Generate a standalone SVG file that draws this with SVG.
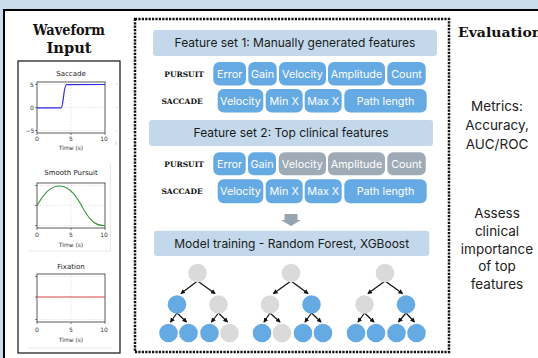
<svg xmlns="http://www.w3.org/2000/svg" width="538" height="358" viewBox="0 0 538 358">
<defs>
<style>
.hdr{fill:#c3d9eb}
.htxt{font-family:Inter,"Liberation Sans",sans-serif;font-size:12px;fill:#1a1a1a;text-anchor:middle}
.pill{fill:#66aae4}
.pgray{fill:#9eaab5}
.ptxt{font-family:Inter,"Liberation Sans",sans-serif;font-size:10.8px;fill:#ffffff;text-anchor:middle}
.lbl{font-family:"DejaVu Serif",serif;font-weight:bold;font-size:7.5px;fill:#111;text-anchor:middle}
.ttl{font-family:"DejaVu Serif",serif;font-weight:bold;fill:#111;text-anchor:middle}
.ttl-start{font-family:"DejaVu Serif",serif;font-weight:bold;fill:#111;text-anchor:start}
.ev{font-family:Inter,"Liberation Sans",sans-serif;font-size:13.5px;fill:#222;text-anchor:middle}
.blue{fill:#66aae4}
.gray{fill:#dadada}
.edge{stroke:#111;stroke-width:1.2;fill:none;marker-end:url(#ah)}
.ax{fill:none;stroke:#333;stroke-width:0.8}
.grid{stroke:#cfcfcf;stroke-width:0.5;stroke-dasharray:1.5 1.5}
.tk{font-family:"DejaVu Sans",sans-serif;font-size:6px;fill:#333;text-anchor:middle}
.pt{font-family:"DejaVu Sans",sans-serif;font-size:7px;fill:#222;text-anchor:middle}
.faint{stroke:#e2e2e2;stroke-width:0.8;fill:none}
</style>
<marker id="ah" viewBox="0 0 6 6" refX="5" refY="3" markerWidth="4" markerHeight="4" orient="auto">
<path d="M0,0 L6,3 L0,6 z" fill="#111"/>
</marker>
</defs>

<!-- background / frame -->
<rect x="0" y="0" width="538" height="358" fill="#c8dcee"/>
<rect x="4" y="10" width="570" height="360" fill="#ffffff" stroke="#000" stroke-width="2"/>

<!-- Waveform input -->
<g id="waveform-title">
<text class="ttl" x="69" y="35" font-size="14.5" textLength="72" lengthAdjust="spacingAndGlyphs">Waveform</text>
<text class="ttl" x="69" y="53" font-size="14.5" textLength="45" lengthAdjust="spacingAndGlyphs">Input</text>
</g>

<g id="waveform-panel">
<rect x="18" y="61" width="102" height="292" fill="#fff" stroke="#222" stroke-width="1.3"/>

<!-- Saccade -->
<text class="pt" x="71" y="76">Saccade</text>
<line class="grid" x1="71" y1="82" x2="71" y2="133"/>
<line class="grid" x1="37" y1="84.5" x2="105" y2="84.5"/>
<line class="grid" x1="37" y1="107.5" x2="105" y2="107.5"/>
<line class="grid" x1="37" y1="130.5" x2="105" y2="130.5"/>
<rect class="ax" x="37" y="82" width="68" height="51"/>
<path d="M35,84.5h2M35,107.5h2M35,130.5h2M37,133v2M71,133v2M105,133v2" stroke="#333" stroke-width="0.6"/>
<text class="tk" x="32" y="86.5">5</text>
<text class="tk" x="32" y="109.5">0</text>
<text class="tk" x="30" y="132.5">−5</text>
<text class="tk" x="37" y="141">0</text>
<text class="tk" x="71" y="141">5</text>
<text class="tk" x="104" y="141">10</text>
<text class="tk" x="71" y="150">Time (s)</text>
<path d="M37,107.8 L61,107.8 C63.5,107.8 63.5,85 66.5,84.7 L105,84.5" fill="none" stroke="#2a2ae0" stroke-width="1.2"/>
<path d="M116,84h1.5M116,107.5h1.5M116,131h1.5M116,141v4" stroke="#bbb" stroke-width="0.6"/>

<!-- Smooth Pursuit -->
<path class="faint" d="M110.5,163 V251 H28"/>
<text class="pt" x="71" y="175">Smooth Pursuit</text>
<line class="grid" x1="71" y1="183" x2="71" y2="228"/>
<line class="grid" x1="37" y1="185.5" x2="105" y2="185.5"/>
<line class="grid" x1="37" y1="205.5" x2="105" y2="205.5"/>
<line class="grid" x1="37" y1="225.5" x2="105" y2="225.5"/>
<rect class="ax" x="37" y="183" width="68" height="45"/>
<path d="M35,185.5h2M35,205.5h2M35,225.5h2M37,228v2M71,228v2M105,228v2" stroke="#333" stroke-width="0.6"/>
<text class="tk" x="37" y="237">0</text>
<text class="tk" x="71" y="237">5</text>
<text class="tk" x="104" y="237">10</text>
<text class="tk" x="71" y="247">Time (s)</text>
<path d="M37,205.5 C44,194 50,186 59.5,186 C70,186 77,197 84,210 C91,222 97,226 105,225.5" fill="none" stroke="#3a963a" stroke-width="1.1"/>

<!-- Fixation -->
<text class="pt" x="71" y="269">Fixation</text>
<line class="grid" x1="71" y1="274" x2="71" y2="322"/>
<line class="grid" x1="37" y1="276.5" x2="105" y2="276.5"/>
<line class="grid" x1="37" y1="297" x2="105" y2="297"/>
<line class="grid" x1="37" y1="319.5" x2="105" y2="319.5"/>
<rect class="ax" x="37" y="274" width="68" height="48"/>
<path d="M35,276.5h2M35,297h2M35,319.5h2M37,322v2M71,322v2M105,322v2" stroke="#333" stroke-width="0.6"/>
<text class="tk" x="37" y="332">0</text>
<text class="tk" x="71" y="332">5</text>
<text class="tk" x="104" y="332">10</text>
<text class="tk" x="71" y="342">Time (s)</text>
<path d="M37,297 L105,297" stroke="#e04848" stroke-width="1.1"/>
<line class="faint" x1="28" y1="348" x2="112" y2="348"/>
</g>

<!-- dotted central box -->
<rect x="135" y="19" width="314" height="333" fill="none" stroke="#111" stroke-width="2.5" stroke-dasharray="2.2 1.2"/>

<g id="featureset1">
<rect class="hdr" x="153" y="30" width="284" height="26" rx="3"/>
<text class="htxt" x="295" y="47">Feature set 1: Manually generated features</text>
</g>
<g id="fs1-pursuit">
<text class="lbl" x="184" y="76.5">PURSUIT</text>
<rect class="pill" x="213.3" y="62" width="32.7" height="23.5" rx="6"/><text class="ptxt" x="229.7" y="77.5">Error</text>
<rect class="pill" x="248.3" y="62" width="28.4" height="23.5" rx="6"/><text class="ptxt" x="262.5" y="77.5">Gain</text>
<rect class="pill" x="279" y="62" width="47" height="23.5" rx="6"/><text class="ptxt" x="302.5" y="77.5">Velocity</text>
<rect class="pill" x="328" y="62" width="57" height="23.5" rx="6"/><text class="ptxt" x="356.5" y="77.5">Amplitude</text>
<rect class="pill" x="387.3" y="62" width="38.4" height="23.5" rx="6"/><text class="ptxt" x="406.5" y="77.5">Count</text>
</g>
<g id="fs1-saccade">
<text class="lbl" x="182" y="103.5">SACCADE</text>
<rect class="pill" x="217.7" y="89" width="45.6" height="23.5" rx="6"/><text class="ptxt" x="240.5" y="104.5">Velocity</text>
<rect class="pill" x="265.7" y="89" width="37" height="23.5" rx="6"/><text class="ptxt" x="284.2" y="104.5">Min X</text>
<rect class="pill" x="304.7" y="89" width="37" height="23.5" rx="6"/><text class="ptxt" x="323.2" y="104.5">Max X</text>
<rect class="pill" x="344.3" y="89" width="82.4" height="23.5" rx="6"/><text class="ptxt" x="385.5" y="104.5">Path length</text>
</g>

<g id="featureset2">
<rect class="hdr" x="149" y="120" width="284" height="26" rx="3"/>
<text class="htxt" x="291" y="137">Feature set 2: Top clinical features</text>
</g>
<g id="fs2-pursuit">
<text class="lbl" x="184" y="166.5">PURSUIT</text>
<rect class="pill" x="213.3" y="152.3" width="32.4" height="23" rx="6"/><text class="ptxt" x="229.5" y="167.5">Error</text>
<rect class="pill" x="248" y="152.3" width="28" height="23" rx="6"/><text class="ptxt" x="262" y="167.5">Gain</text>
<rect class="pgray" x="278.7" y="152.3" width="47.3" height="23" rx="6"/><text class="ptxt" x="302.3" y="167.5">Velocity</text>
<rect class="pgray" x="328" y="152.3" width="57" height="23" rx="6"/><text class="ptxt" x="356.5" y="167.5">Amplitude</text>
<rect class="pgray" x="387.3" y="152.3" width="38.4" height="23" rx="6"/><text class="ptxt" x="406.5" y="167.5">Count</text>
</g>
<g id="fs2-saccade">
<text class="lbl" x="182" y="193.5">SACCADE</text>
<rect class="pill" x="217.7" y="179.3" width="45.6" height="24" rx="6"/><text class="ptxt" x="240.5" y="195">Velocity</text>
<rect class="pill" x="265.7" y="179.3" width="37" height="24" rx="6"/><text class="ptxt" x="284.2" y="195">Min X</text>
<rect class="pill" x="304.7" y="179.3" width="37" height="24" rx="6"/><text class="ptxt" x="323.2" y="195">Max X</text>
<rect class="pill" x="344.3" y="179.3" width="82.4" height="24" rx="6"/><text class="ptxt" x="385.5" y="195">Path length</text>
</g>

<g id="arrow-down">
<path d="M284.5,214 H297.5 V220 H301 L291,226 L281,220 H284.5 Z" fill="#98a4ae"/>
</g>

<g id="model-training">
<rect class="hdr" x="154" y="230.7" width="275.3" height="25.3" rx="3"/>
<text class="htxt" x="291.7" y="248">Model training - Random Forest, XGBoost</text>
</g>

<g id="connectors">
<!-- tree 1 -->
<path class="edge" d="M197.5,281 L181,293.5"/>
<path class="edge" d="M197.5,281 L215,293.5"/>
<path class="edge" d="M177,313 L170.5,322"/>
<path class="edge" d="M177,313 L186.5,322"/>
<path class="edge" d="M218.5,313 L211.5,322"/>
<path class="edge" d="M218.5,313 L227.5,322"/>
<!-- tree 2 -->
<path class="edge" d="M291,281 L273.5,293.5"/>
<path class="edge" d="M291,281 L308,293.5"/>
<path class="edge" d="M270,313 L264,322"/>
<path class="edge" d="M270,313 L280,322"/>
<path class="edge" d="M311.5,313 L305,322"/>
<path class="edge" d="M311.5,313 L321,322"/>
<!-- tree 3 -->
<path class="edge" d="M385,281 L368,293.5"/>
<path class="edge" d="M385,281 L402.5,293.5"/>
<path class="edge" d="M364.5,313 L358,322"/>
<path class="edge" d="M364.5,313 L374,322"/>
<path class="edge" d="M406,313 L398.5,322"/>
<path class="edge" d="M406,313 L414.5,322"/>
</g>

<g id="tree1">
<circle class="gray" cx="197.5" cy="273" r="9.3"/>
<circle class="blue" cx="177" cy="304.5" r="9.3"/>
<circle class="gray" cx="218.5" cy="304.5" r="9.3"/>
<circle class="blue" cx="168.5" cy="333" r="9.3"/>
<circle class="blue" cx="188.5" cy="333" r="9.3"/>
<circle class="blue" cx="209.5" cy="333" r="9.3"/>
<circle class="gray" cx="229.5" cy="333" r="9.3"/>
</g>
<g id="tree2">
<circle class="gray" cx="291" cy="273" r="9.3"/>
<circle class="gray" cx="270" cy="304.5" r="9.3"/>
<circle class="blue" cx="311.5" cy="304.5" r="9.3"/>
<circle class="blue" cx="262" cy="333" r="9.3"/>
<circle class="gray" cx="282" cy="333" r="9.3"/>
<circle class="blue" cx="303" cy="333" r="9.3"/>
<circle class="blue" cx="323" cy="333" r="9.3"/>
</g>
<g id="tree3">
<circle class="gray" cx="385" cy="273" r="9.3"/>
<circle class="gray" cx="364.5" cy="304.5" r="9.3"/>
<circle class="blue" cx="406" cy="304.5" r="9.3"/>
<circle class="blue" cx="356" cy="333" r="9.3"/>
<circle class="blue" cx="376" cy="333" r="9.3"/>
<circle class="blue" cx="396.5" cy="333" r="9.3"/>
<circle class="blue" cx="416.5" cy="333" r="9.3"/>
</g>

<g id="evaluation">
<text class="ttl-start" x="458" y="37" font-size="13.5" textLength="84" lengthAdjust="spacingAndGlyphs">Evaluation</text>
</g>
<g id="metrics">
<text class="ev" x="497" y="111">Metrics:</text>
<text class="ev" x="497" y="130">Accuracy,</text>
<text class="ev" x="497" y="149">AUC/ROC</text>
</g>
<g id="assess">
<text class="ev" x="497" y="218">Assess</text>
<text class="ev" x="497" y="236">clinical</text>
<text class="ev" x="497" y="254">importance</text>
<text class="ev" x="497" y="271">of top</text>
<text class="ev" x="497" y="289">features</text>
</g>
</svg>
